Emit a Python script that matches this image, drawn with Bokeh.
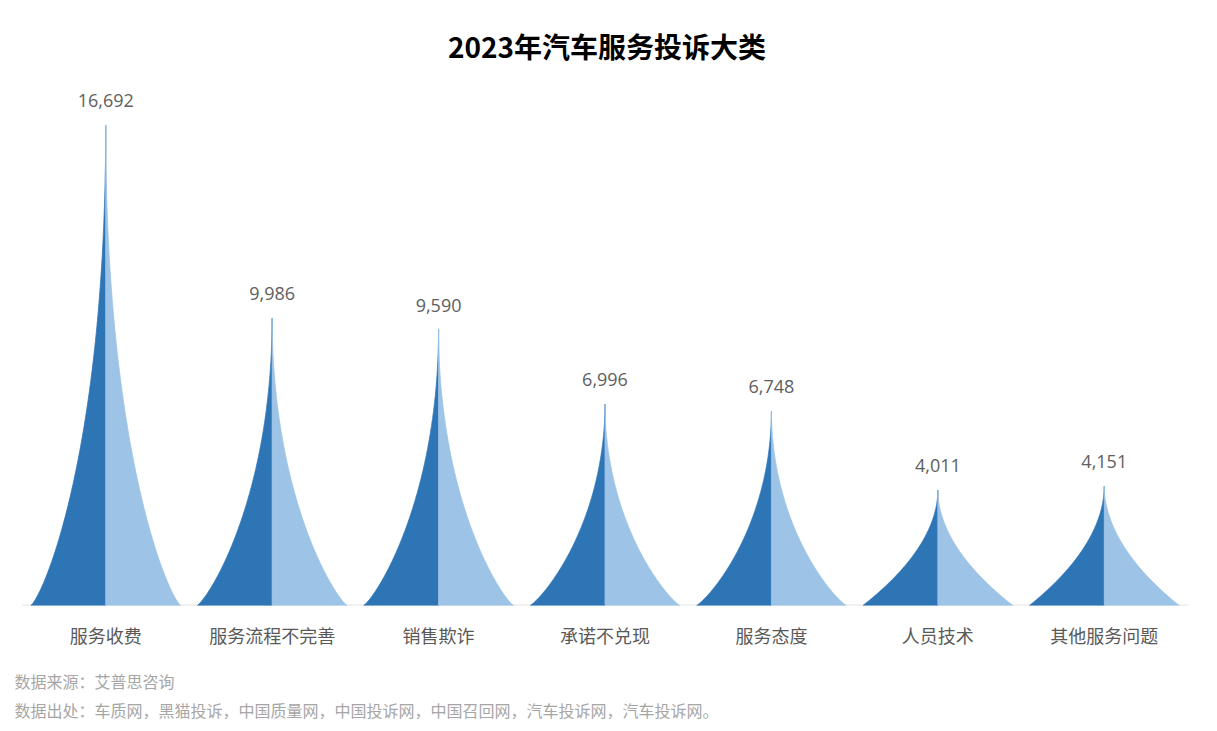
import numpy as np
from bokeh.plotting import figure
from bokeh.layouts import column
from bokeh.models import Range1d, ColumnDataSource, FixedTicker
from bokeh.core.properties import value
from bokeh.embed import file_html
from bokeh.resources import INLINE

# ---- data ----
categories = ["服务收费", "服务流程不完善", "销售欺诈", "承诺不兑现", "服务态度", "人员技术", "其他服务问题"]
complaints = [16692, 9986, 9590, 6996, 6748, 4011, 4151]
title_text = "2023年汽车服务投诉大类"
source_note = "数据来源：艾普思咨询"
origin_note = "数据出处：车质网，黑猫投诉，中国质量网，中国投诉网，中国召回网，汽车投诉网，汽车投诉网。"

# ---- style / layout ----
DARK = "#2E75B6"
LIGHT = "#9DC3E6"
CJK = "Noto Sans CJK SC"
HALF_W = 0.45
W = 1217
PAD_L, PAD_R = 22, 30          # px beside the category bands
BAND = (W - PAD_L - PAD_R) / len(categories)
FRAME_H = 605                  # px from canvas top to the baseline
Y_SCALE = 18000 / 518          # data units per px
Y_TOP = FRAME_H * Y_SCALE

n = len(categories)
centers = [i + 0.5 for i in range(n)]

p = figure(
    x_range=Range1d(-PAD_L / BAND, n + PAD_R / BAND),
    y_range=Range1d(0, Y_TOP),
    frame_width=W, frame_height=FRAME_H,
    min_border_left=0, min_border_right=0, min_border_top=0, min_border_bottom=55,
    output_backend="svg", toolbar_location=None, tools="",
    y_axis_location=None, title=None,
)
p.outline_line_color = None
p.xgrid.visible = False
p.ygrid.visible = False

vmax = max(complaints)
lx, ly, rx, ry = [], [], [], []
h = np.linspace(1.0, 0.0, 240)
for c, v in zip(centers, complaints):
    r = v / vmax
    b = float(np.interp(r, [0.24, 0.4, 1.0], [1.0, 0.86, 0.8]))
    k = float(np.interp(r, [0.24, 0.4, 1.0], [1.95, 1.95, 2.05]))
    o = (1.0 - h ** b) ** k
    lx.append(np.concatenate([[c], c - HALF_W * o]))
    ly.append(np.concatenate([[0.0], v * h]))
    rx.append(np.concatenate([[c], c + HALF_W * o]))
    ry.append(np.concatenate([[0.0], v * h]))

# baseline across the category bands
p.segment(x0=[0], y0=[0], x1=[n], y1=[0], line_color="#E4E4E4", line_width=2)

p.patches(xs=lx, ys=ly, fill_color=DARK, line_color=DARK, line_width=0.8)
p.patches(xs=rx, ys=ry, fill_color=LIGHT, line_color=LIGHT, line_width=0.8)

src = ColumnDataSource(dict(x=centers, y=complaints, t=[f"{v:,}" for v in complaints]))
p.text(x="x", y="y", text="t", source=src, y_offset=-18,
       text_align="center", text_baseline="bottom",
       text_font=value("Open Sans"), text_font_size="18px", text_color="#606060")

# chart title
p.text(x=[n / 2], y=[(FRAME_H - 45) * Y_SCALE], text=[title_text],
       text_align="center", text_baseline="middle", x_offset=2,
       text_font=value(CJK), text_font_size="28px", text_font_style="bold",
       text_color="#000000")

ax = p.xaxis[0]
ax.ticker = FixedTicker(ticks=centers)
ax.major_label_overrides = {c: name for c, name in zip(centers, categories)}
ax.axis_line_color = None
ax.major_tick_line_color = None
ax.minor_tick_line_color = None
ax.major_label_standoff = 10
ax.major_label_text_font = CJK
ax.major_label_text_font_size = "18px"
ax.major_label_text_color = "#595959"

# footer notes (page coordinates, y downward)
f = figure(
    x_range=Range1d(0, W), y_range=Range1d(731, 660),
    frame_width=W, frame_height=71,
    min_border_left=0, min_border_right=0, min_border_top=0, min_border_bottom=0,
    output_backend="svg", toolbar_location=None, tools="",
    x_axis_location=None, y_axis_location=None, title=None,
)
f.outline_line_color = None
f.xgrid.visible = False
f.ygrid.visible = False
f.text(x=[14, 14], y=[680, 709], text=[source_note, origin_note],
       text_align="left", text_baseline="middle",
       text_font=value(CJK), text_font_size="16px", text_color="#A6A6A6")

layout = column(p, f, spacing=0)
open("out.html", "w").write(file_html(layout, INLINE))
